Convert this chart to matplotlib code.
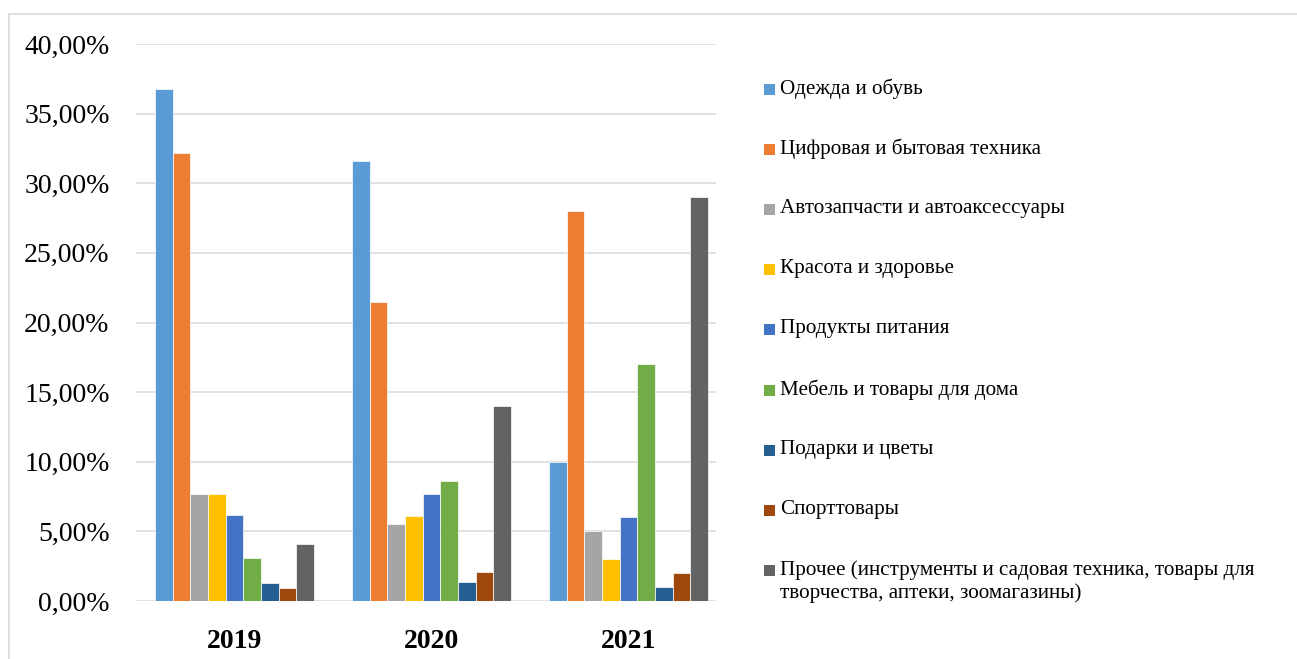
import numpy as np
import matplotlib
matplotlib.use('Agg')
import matplotlib.pyplot as plt
from matplotlib.patches import Rectangle
from matplotlib.ticker import FuncFormatter

plt.rcParams['font.family'] = ['Liberation Serif', 'DejaVu Serif']

# Данные (доли, %)
years = ['2019', '2020', '2021']
categories = [
    'Одежда и обувь',
    'Цифровая и бытовая техника',
    'Автозапчасти и автоаксессуары',
    'Красота и здоровье',
    'Продукты питания',
    'Мебель и товары для дома',
    'Подарки и цветы',
    'Спорттовары',
    'Прочее (инструменты и садовая техника, товары для\nтворчества, аптеки, зоомагазины)',
]
odezhda = [36.8, 31.6, 10.0]
tsifrovaya = [32.2, 21.5, 28.0]
avto = [7.7, 5.5, 5.0]
krasota = [7.7, 6.1, 3.0]
produkty = [6.2, 7.7, 6.0]
mebel = [3.1, 8.6, 17.0]
podarki = [1.3, 1.4, 1.0]
sport = [0.9, 2.1, 2.0]
prochee = [4.1, 14.0, 29.0]

series = [odezhda, tsifrovaya, avto, krasota, produkty, mebel, podarki, sport, prochee]
colors = ['#5B9BD5', '#ED7D31', '#A5A5A5', '#FFC000', '#4472C4',
          '#70AD47', '#255E91', '#9E480E', '#636363']

W, H = 1297, 659
fig = plt.figure(figsize=(W / 100, H / 100), dpi=100)
ax = fig.add_axes([136 / W, 58 / H, 580 / W, 557 / H])

x = np.arange(len(years))
bw = 0.0897
n = len(series)
for j, (vals, col) in enumerate(zip(series, colors)):
    ax.bar(x + (j - (n - 1) / 2) * bw, vals, width=bw, color=col,
           edgecolor='white', linewidth=0.5, zorder=3)

ax.set_xlim(-0.5, 2.444)
ax.set_ylim(0, 40)
ax.set_yticks(np.arange(0, 41, 5))
ax.yaxis.set_major_formatter(FuncFormatter(lambda v, p: f'{v:.2f}%'.replace('.', ',')))
ax.set_xticks(x)
ax.set_xticklabels(years, fontsize=20, fontweight='bold')
ax.tick_params(axis='y', length=0, pad=19, labelsize=20)
ax.tick_params(axis='x', length=0, pad=20)
ax.grid(axis='y', color='#D9D9D9', linewidth=1.1, zorder=0)
for s in ax.spines.values():
    s.set_visible(False)

# легенда
y0 = 89
step = 60.2
for i, (lab, col) in enumerate(zip(categories, colors)):
    yc = y0 + i * step
    fig.add_artist(Rectangle((764 / W, 1 - (yc + 5.5) / H), 11 / W, 11 / H,
                             transform=fig.transFigure, facecolor=col,
                             edgecolor='none'))
    fig.text(780 / W, 1 - (yc - 10.5) / H, lab, fontsize=15.2, va='top',
             ha='left', linespacing=1.2, color='#000000')

# рамка диаграммы
fig.add_artist(Rectangle((9 / W, -0.05), 1.1, (1 - 14 / H) + 0.05,
                         transform=fig.transFigure, facecolor='none',
                         edgecolor='#D9D9D9', linewidth=1.2))

fig.savefig('out.png', dpi=100)
